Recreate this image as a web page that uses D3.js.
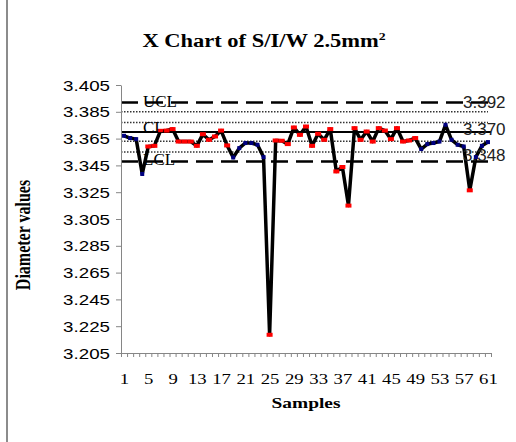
<!DOCTYPE html>
<html>
<head>
<meta charset="utf-8">
<script src="https://cdn.jsdelivr.net/npm/d3@7"></script>
<style>
  body { margin: 0; background: #fff; }
  svg { display: block; }
</style>
</head>
<body>
<svg id="chart" width="516" height="442"></svg>
<script>
// X chart data
const samples = d3.range(1, 62)
const diameters = [
  3.3671, 3.3654, 3.3646, 3.3386, 3.3591, 3.3596, 3.3708, 3.3710, 3.3721, 3.3628,
  3.3628, 3.3628, 3.3596, 3.3683, 3.3641, 3.3666, 3.3710, 3.3599, 3.3509, 3.3579,
  3.3617, 3.3617, 3.3604, 3.3512, 3.2186, 3.3636, 3.3634, 3.3609, 3.3733, 3.3678,
  3.3740, 3.3596, 3.3686, 3.3641, 3.3721, 3.3405, 3.3438, 3.3150, 3.3728, 3.3641,
  3.3703, 3.3628, 3.3728, 3.3710, 3.3646, 3.3728, 3.3628, 3.3636, 3.3654, 3.3572,
  3.3609, 3.3617, 3.3628, 3.3753, 3.3641, 3.3604, 3.3591, 3.3264, 3.3512, 3.3596,
  3.3624
]
// 1 = point flagged by a run rule (drawn red), 0 = normal (navy)
const flagged = [
  0, 0, 0, 0, 1, 1, 1, 1, 1, 1,
  1, 1, 1, 1, 1, 1, 1, 1, 0, 0,
  0, 0, 0, 0, 1, 1, 1, 1, 1, 1,
  1, 1, 1, 1, 1, 1, 1, 1, 1, 1,
  1, 1, 1, 1, 1, 1, 1, 1, 1, 0,
  0, 0, 0, 0, 0, 0, 0, 1, 0, 0,
  0
]
const limitNames = ['UCL', 'CL', 'LCL']
const limitValues = [3.392, 3.370, 3.348]
const zoneValues = [3.385, 3.377, 3.363, 3.355]
const yTicks = [3.405, 3.385, 3.365, 3.345, 3.325, 3.305, 3.285, 3.265, 3.245, 3.225, 3.205]
const xTickLabels = [1, 5, 9, 13, 17, 21, 25, 29, 33, 37, 41, 45, 49, 53, 57, 61]

const SX = 1.25   // the picture's text is drawn a bit wide
const serif = 'Liberation Serif, Times New Roman, serif'
const sans = 'Liberation Sans, Arial, sans-serif'

let svg = d3.select('#chart')
let plotLeft = 121, plotRight = 491, plotTop = 85, plotBottom = 353

let x = d3.scalePoint()
  .domain(samples)
  .range([plotLeft, plotRight])
  .padding(0.5)

let xEdges = d3.scaleLinear()
  .domain([0, samples.length])
  .range([plotLeft, plotRight])

let y = d3.scaleLinear()
  .domain([3.205, 3.405])
  .range([plotBottom, plotTop])

// frame
svg.append('line')
  .attr('x1', 7).attr('x2', 7).attr('y1', 0).attr('y2', 442)
  .attr('stroke', '#8c8c8c').attr('stroke-width', 2)

// title
let title = svg.append('text')
  .attr('transform', `translate(264, 47) scale(${SX},1)`)
  .attr('text-anchor', 'middle')
  .attr('font-family', serif)
  .attr('font-weight', 'bold')
  .attr('font-size', 18)
  .text('X Chart of S/I/W 2.5mm')
title.append('tspan')
  .attr('font-size', 11)
  .attr('dy', -7)
  .text('2')

// zone lines
svg.selectAll('.zone')
  .data(zoneValues)
  .enter()
  .append('line')
  .attr('class', 'zone')
  .attr('x1', plotLeft).attr('x2', plotRight - 3)
  .attr('y1', d => y(d)).attr('y2', d => y(d))
  .attr('stroke', '#333')
  .attr('stroke-width', 1.5)
  .attr('stroke-dasharray', '1.5,1.5')

// control limits
svg.selectAll('.limit')
  .data(limitValues)
  .enter()
  .append('line')
  .attr('class', 'limit')
  .attr('x1', plotLeft).attr('x2', plotRight)
  .attr('y1', d => y(d)).attr('y2', d => y(d))
  .attr('stroke', '#000')
  .attr('stroke-width', (d, i) => i === 1 ? 2 : 2.5)
  .attr('stroke-dasharray', (d, i) => i === 1 ? null : '17,8')

// axes
let yAxis = d3.axisLeft(y)
  .tickValues(yTicks)
  .tickFormat(d3.format('.3f'))
  .tickSize(5)
  .tickSizeOuter(0)
let gy = svg.append('g')
  .attr('transform', `translate(${plotLeft}, 0)`)
  .call(yAxis)
gy.select('.domain').attr('stroke', '#868686')
gy.selectAll('.tick line').attr('stroke', '#868686')
gy.selectAll('.tick text')
  .attr('x', null).attr('dy', null)
  .attr('transform', `translate(-11, 5) scale(${SX},1)`)
  .attr('font-family', sans)
  .attr('font-size', 15)
  .attr('fill', '#000')

let xTicks = d3.axisBottom(xEdges)
  .tickValues(d3.range(0, samples.length + 1))
  .tickFormat('')
  .tickSize(4)
  .tickSizeOuter(0)
let gx = svg.append('g')
  .attr('transform', `translate(0, ${plotBottom})`)
  .call(xTicks)
gx.select('.domain').attr('stroke', '#868686')
gx.selectAll('.tick line').attr('stroke', '#868686')

let xLabels = d3.axisBottom(x)
  .tickValues(xTickLabels)
  .tickSize(0)
let gxl = svg.append('g')
  .attr('transform', `translate(0, ${plotBottom})`)
  .call(xLabels)
gxl.select('.domain').remove()
gxl.selectAll('.tick text')
  .attr('y', null).attr('dy', null)
  .attr('transform', `translate(0, 31) scale(${SX},1)`)
  .attr('font-family', serif)
  .attr('font-size', 15)
  .attr('fill', '#000')

// axis titles
svg.append('text')
  .attr('transform', `translate(306, 408) scale(${SX},1)`)
  .attr('text-anchor', 'middle')
  .attr('font-family', serif)
  .attr('font-weight', 'bold')
  .attr('font-size', 15.5)
  .text('Samples')

svg.append('text')
  .attr('transform', `translate(30, 235) rotate(-90) scale(1,${SX})`)
  .attr('text-anchor', 'middle')
  .attr('font-family', serif)
  .attr('font-weight', 'bold')
  .attr('font-size', 16)
  .text('Diameter values')

// data line
let line = d3.line()
  .x((d, i) => x(samples[i]))
  .y(d => y(d))
svg.append('path')
  .datum(diameters)
  .attr('d', line)
  .attr('fill', 'none')
  .attr('stroke', '#000')
  .attr('stroke-width', 3.5)
  .attr('stroke-linejoin', 'round')

svg.selectAll('.pt')
  .data(diameters)
  .enter()
  .append('rect')
  .attr('class', 'pt')
  .attr('x', (d, i) => x(samples[i]) - (flagged[i] ? 3 : 2))
  .attr('y', d => y(d) - 2)
  .attr('width', (d, i) => flagged[i] ? 6 : 4)
  .attr('height', 4)
  .attr('fill', (d, i) => flagged[i] ? '#ff0000' : '#000080')

// limit labels
let nameDy = [5, 1, 4]
svg.selectAll('.lname')
  .data(limitNames)
  .enter()
  .append('text')
  .attr('class', 'lname')
  .attr('x', 143)
  .attr('y', (d, i) => y(limitValues[i]) + nameDy[i])
  .attr('font-family', serif)
  .attr('font-size', 17)
  .text(d => d)

let valueDy = [6, 3, 0]
svg.selectAll('.lval')
  .data(limitValues)
  .enter()
  .append('text')
  .attr('class', 'lval')
  .attr('x', 463)
  .attr('y', (d, i) => y(d) + valueDy[i])
  .attr('font-family', sans)
  .attr('font-size', 17)
  .attr('fill', '#222')
  .text(d => d3.format('.3f')(d))
</script>
</body>
</html>
